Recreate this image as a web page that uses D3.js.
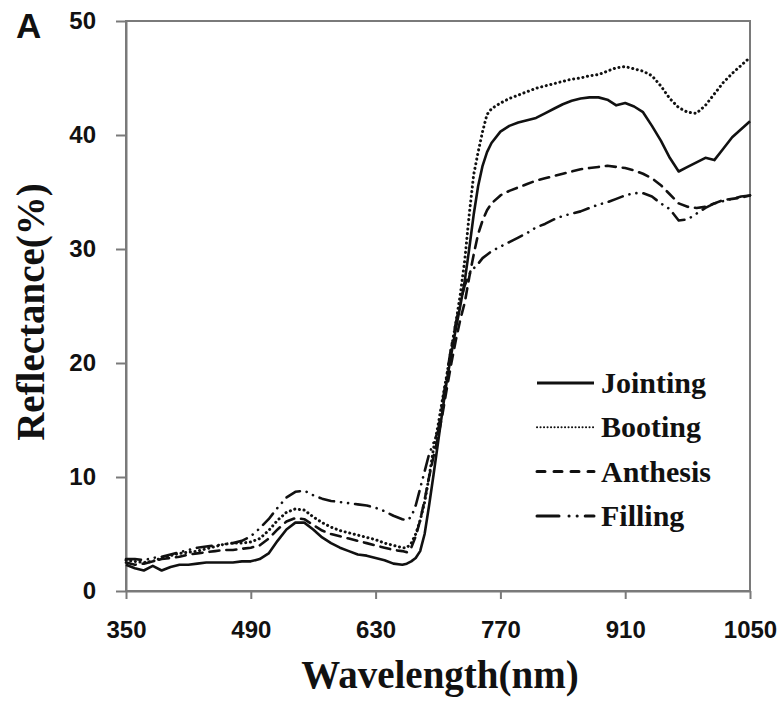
<!DOCTYPE html>
<html>
<head>
<meta charset="utf-8">
<script src="https://cdn.jsdelivr.net/npm/d3@7"></script>
<style>
  body { margin: 0; background: #fff; }
  svg { display: block; }
</style>
</head>
<body>
<svg class="chart"></svg>
<script>
// wavelengths (nm)
let wavelength = [350, 360, 370, 380, 390, 400, 410, 420, 430, 440, 450, 460, 470, 480, 490,
    500, 510, 520, 530, 540, 550, 560, 570, 580, 590, 600, 610, 620, 630, 640, 650, 660,
    665, 670, 675, 680, 685, 690, 695, 700, 705, 710, 715, 720, 725, 730, 735, 740, 745, 750, 755, 760,
    770, 780, 790, 800, 810, 820, 830, 840, 850, 860, 870, 880, 890, 900, 910, 920, 930, 940,
    950, 960, 970, 980, 990, 1000, 1010, 1020, 1030, 1040, 1050];

let jointing = [2.3, 2.0, 1.8, 2.2, 1.8, 2.1, 2.3, 2.3, 2.4, 2.5, 2.5, 2.5, 2.5, 2.6, 2.6,
    2.8, 3.3, 4.4, 5.4, 6.0, 6.0, 5.4, 4.7, 4.2, 3.8, 3.5, 3.2, 3.1, 2.9, 2.7, 2.4, 2.3,
    2.4, 2.6, 2.9, 3.5, 5.0, 7.5, 10.2, 13.0, 15.8, 18.5, 20.8, 23.0, 25.0, 27.2, 30.0, 33.0, 35.5, 37.3, 38.5, 39.3,
    40.3, 40.8, 41.1, 41.3, 41.5, 41.9, 42.3, 42.7, 43.0, 43.2, 43.3, 43.3, 43.1, 42.6, 42.8, 42.5, 42.0, 40.8,
    39.5, 38.0, 36.8, 37.2, 37.6, 38.0, 37.8, 38.8, 39.8, 40.5, 41.2];

let booting = [2.7, 2.6, 2.5, 2.6, 2.9, 3.1, 3.3, 3.4, 3.5, 3.7, 3.9, 4.1, 4.2, 4.2, 4.3,
    4.6, 5.3, 6.2, 6.9, 7.2, 7.1, 6.5, 6.0, 5.6, 5.3, 5.1, 4.9, 4.7, 4.5, 4.2, 4.0, 3.8,
    3.8, 4.2, 5.0, 6.2, 7.8, 10.0, 12.5, 14.5, 16.8, 19.0, 21.3, 23.5, 26.0, 29.0, 33.0, 36.5, 38.5, 40.3, 41.8, 42.3,
    42.8, 43.2, 43.5, 43.8, 44.1, 44.3, 44.5, 44.7, 44.9, 45.0, 45.2, 45.3, 45.6, 45.9, 46.0, 45.8, 45.6, 45.2,
    44.3, 43.2, 42.4, 42.0, 41.9, 42.6, 43.6, 44.6, 45.4, 46.1, 46.8];

let anthesis = [2.5, 2.3, 2.4, 2.6, 2.8, 2.9, 3.0, 3.2, 3.3, 3.4, 3.5, 3.6, 3.6, 3.7, 3.8,
    4.0, 4.6, 5.4, 6.1, 6.4, 6.3, 5.8, 5.3, 5.0, 4.8, 4.6, 4.4, 4.2, 4.0, 3.8, 3.6, 3.5,
    3.4, 3.8, 4.8, 6.2, 8.0, 10.0, 11.8, 13.5, 15.5, 17.8, 20.0, 22.0, 23.8, 25.3, 27.5, 29.5, 31.3, 32.5, 33.4, 34.0,
    34.7, 35.1, 35.4, 35.7, 36.0, 36.2, 36.4, 36.6, 36.8, 37.0, 37.1, 37.2, 37.3, 37.2, 37.1, 36.9, 36.6, 36.2,
    35.6, 34.8, 34.0, 33.7, 33.6, 33.7, 34.0, 34.3, 34.4, 34.5, 34.7];

let filling = [2.8, 2.8, 2.7, 2.9, 3.0, 3.2, 3.4, 3.6, 3.8, 3.9, 4.0, 4.1, 4.2, 4.4, 4.8,
    5.5, 6.3, 7.3, 8.2, 8.7, 8.8, 8.4, 8.1, 7.9, 7.8, 7.7, 7.6, 7.5, 7.3, 7.0, 6.6, 6.3,
    6.2, 6.5, 7.5, 9.0, 10.5, 12.0, 13.0, 14.0, 16.5, 19.0, 21.5, 23.5, 25.3, 26.8, 27.8, 28.3, 28.7, 29.2, 29.5, 29.8,
    30.2, 30.6, 31.0, 31.4, 31.9, 32.2, 32.6, 32.9, 33.1, 33.3, 33.6, 33.9, 34.1, 34.4, 34.7, 34.9, 34.9, 34.6,
    34.0, 33.5, 32.5, 32.6, 33.1, 33.6, 34.0, 34.2, 34.4, 34.6, 34.7];

let seriesNames = ["Jointing", "Booting", "Anthesis", "Filling"];
let xTicks = [350, 490, 630, 770, 910, 1050];
let yTicks = [0, 10, 20, 30, 40, 50];

let svgWidth = 784, svgHeight = 702;
let margin = {left: 126, top: 21, right: 34, bottom: 111};
let w = svgWidth - margin.left - margin.right, h = svgHeight - margin.top - margin.bottom;

// line looks per stage
let dashes = {
    "Jointing": null,
    "Booting": "0.1 4.6",
    "Anthesis": "10 7",
    "Filling": "15 7 0.1 7 0.1 7"
};

let svg = d3.select('.chart')
    .attr("width", svgWidth)
    .attr("height", svgHeight);

let x = d3.scaleLinear().domain([350, 1050]).range([0, w]);
let y = d3.scaleLinear().domain([0, 50]).range([h, 0]);

let g = svg.append("g")
    .attr("transform", "translate(" + margin.left + "," + margin.top + ")");

let frameColor = "#7a7a7a";

// frame
g.append("rect")
    .attr("x", 0).attr("y", 0)
    .attr("width", w).attr("height", h)
    .attr("fill", "none")
    .attr("stroke", frameColor)
    .attr("stroke-width", 2);

let xAxis = g.append("g")
    .attr("transform", "translate(0," + h + ")")
    .call(d3.axisBottom(x).tickValues(xTicks).tickFormat(d3.format("d")).tickSize(8).tickSizeOuter(0));

let yAxis = g.append("g")
    .call(d3.axisLeft(y).tickValues(yTicks).tickFormat(d3.format("d")).tickSize(10).tickSizeOuter(0));

[xAxis, yAxis].forEach(a => {
    a.select(".domain").attr("stroke", frameColor).attr("stroke-width", 2);
    a.selectAll(".tick line").attr("stroke", frameColor).attr("stroke-width", 2);
    a.selectAll(".tick text")
        .attr("fill", "#111")
        .style("font-family", "'Liberation Sans', Arial, sans-serif")
        .style("font-weight", "bold")
        .style("font-size", "24px");
});
xAxis.selectAll(".tick text").attr("dy", "1.5em");
yAxis.selectAll(".tick text").attr("x", -30);

let stages = {
    "Jointing": jointing,
    "Booting": booting,
    "Anthesis": anthesis,
    "Filling": filling
};

let line = d3.line()
    .x(function (d) { return x(d[0]); })
    .y(function (d) { return y(d[1]); });

seriesNames.forEach(function (name) {
    let pts = wavelength.map(function (wl, i) { return [wl, stages[name][i]]; });
    g.append("path")
        .datum(pts)
        .attr("d", line)
        .attr("fill", "none")
        .attr("stroke", "#111")
        .attr("stroke-width", name === "Booting" ? 3 : 2.6)
        .attr("stroke-linecap", name === "Jointing" ? "butt" : "round")
        .attr("stroke-linejoin", "round")
        .attr("stroke-dasharray", dashes[name]);
});

// legend
let legend = svg.append("g").attr("transform", "translate(537,383)");
let legendRow = legend.selectAll("g")
    .data(seriesNames)
    .enter()
    .append("g")
    .attr("transform", function (d, i) { return "translate(0," + (i * 44.3) + ")"; });

legendRow.append("line")
    .attr("x1", 0).attr("x2", 57)
    .attr("y1", 0).attr("y2", 0)
    .attr("stroke", "#111")
    .attr("stroke-width", function (d) { return d === "Booting" ? 2 : 3; })
    .attr("stroke-linecap", function (d) { return d === "Jointing" ? "butt" : "round"; })
    .attr("stroke-dasharray", function (d) {
        if (d === "Booting") return "0.1 3.4";
        if (d === "Anthesis") return "8 9";
        if (d === "Filling") return "22 10 0.1 8 0.1 8";
        return null;
    });

legendRow.append("text")
    .attr("x", 64)
    .attr("y", 10)
    .attr("fill", "#111")
    .style("font-family", "'Liberation Serif', 'Times New Roman', serif")
    .style("font-weight", "bold")
    .style("font-size", "30px")
    .text(function (d) { return d; });

// axis titles
svg.append("text")
    .attr("x", 440)
    .attr("y", 688)
    .attr("text-anchor", "middle")
    .attr("fill", "#111")
    .style("font-family", "'Liberation Serif', 'Times New Roman', serif")
    .style("font-weight", "bold")
    .style("font-size", "39px")
    .text("Wavelength(nm)");

svg.append("text")
    .attr("transform", "translate(44,312) rotate(-90)")
    .attr("text-anchor", "middle")
    .attr("fill", "#111")
    .style("font-family", "'Liberation Serif', 'Times New Roman', serif")
    .style("font-weight", "bold")
    .style("font-size", "39px")
    .text("Reflectance(%)");

svg.append("text")
    .attr("x", 16)
    .attr("y", 38)
    .attr("fill", "#111")
    .style("font-family", "'Liberation Sans', Arial, sans-serif")
    .style("font-weight", "bold")
    .style("font-size", "35px")
    .text("A");
</script>
</body>
</html>
